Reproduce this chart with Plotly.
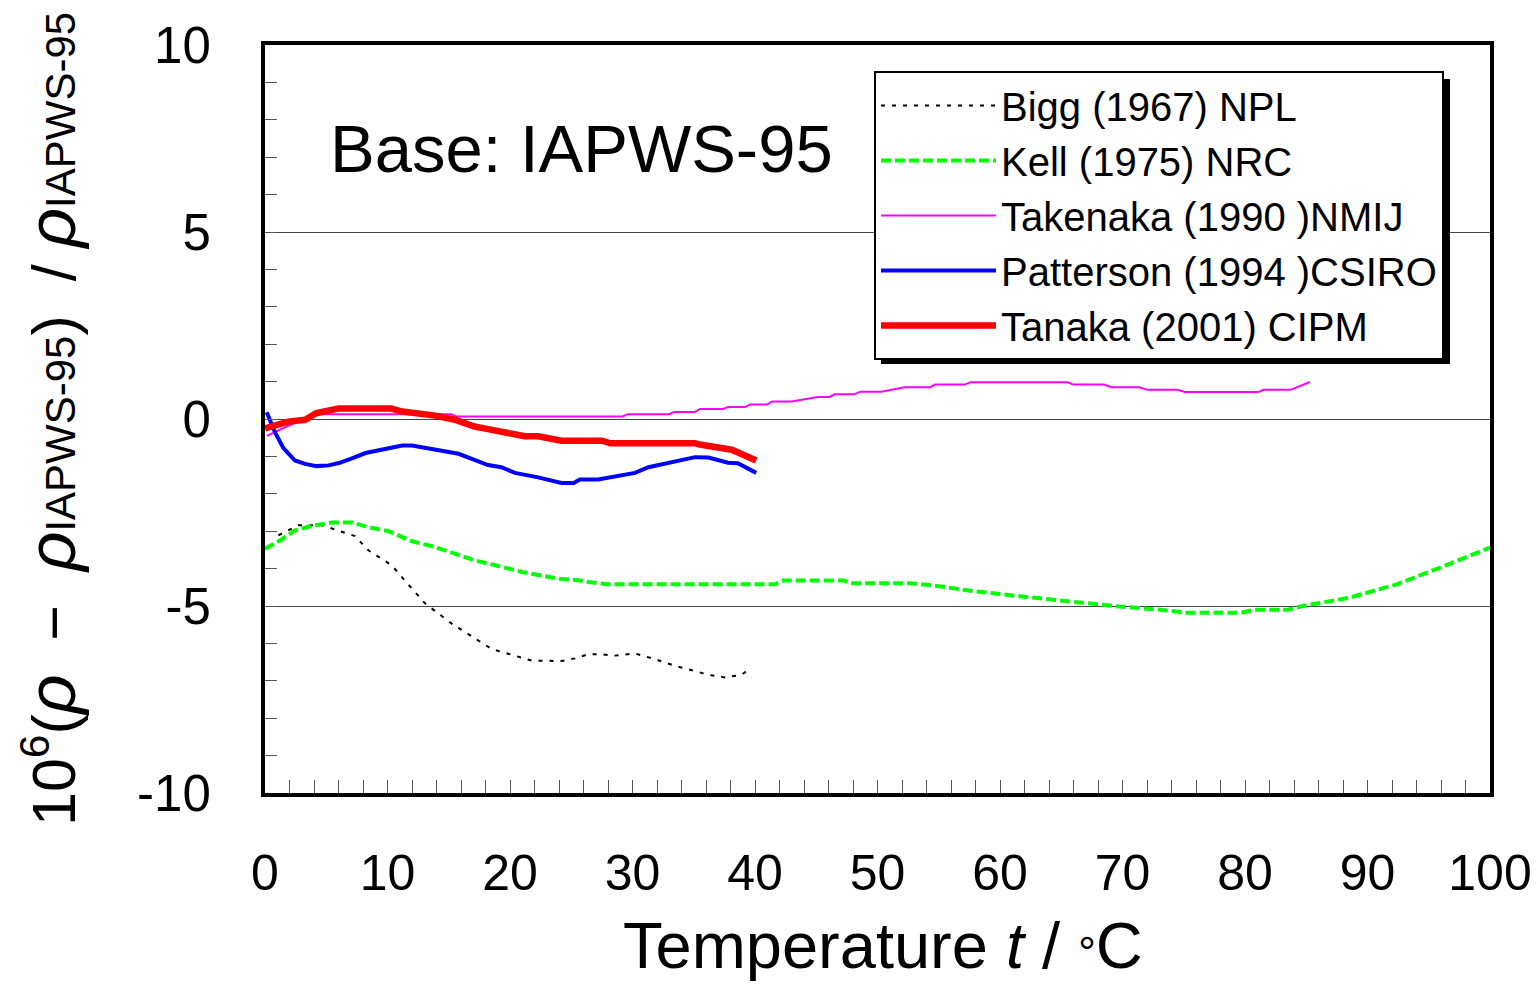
import plotly.graph_objects as go

# ---------------- data ----------------
bigg_t = [1.09, 2.72, 4.63, 6.26, 7.35, 8.43, 10.34, 11.16, 13.06, 15.24, 17.41, 18.5, 20.41, 21.77,
          24.22, 25.31, 26.39, 27.48, 28.44, 30.2, 31.84, 33.47, 34.56, 36.19, 37.55, 38.91, 39.32]
bigg_v = [-3.11, -2.84, -2.84, -3.02, -3.13, -3.51, -3.91, -4.22, -4.93, -5.47, -5.91, -6.15, -6.33, -6.46,
          -6.47, -6.40, -6.29, -6.29, -6.33, -6.27, -6.42, -6.60, -6.69, -6.84, -6.91, -6.84, -6.74]

kell_t = [0.0, 1.36, 2.45, 3.8, 5.4, 7.1, 8.4, 10.1, 12.0, 13.6, 15.5, 17.1, 18.8, 21.0, 23.1, 24.2,
          25.6, 26.4, 28.0, 41.6, 42.3, 47.3, 47.7, 52.7, 55.0, 57.3, 61.6, 65.4, 69.3, 73.1, 75.1,
          79.7, 80.8, 83.5, 84.7, 88.5, 92.4, 96.2, 100.0]
kell_v = [-3.47, -3.22, -2.98, -2.86, -2.77, -2.77, -2.89, -3.00, -3.27, -3.40, -3.60, -3.78, -3.91,
          -4.09, -4.22, -4.28, -4.31, -4.36, -4.42, -4.42, -4.32, -4.32, -4.39, -4.39, -4.47, -4.58,
          -4.74, -4.87, -5.00, -5.10, -5.18, -5.18, -5.10, -5.10, -5.00, -4.78, -4.42, -3.94, -3.44]

take_t = [0.15, 1.9, 4.1, 15.2, 15.6, 29.2, 29.6, 33.0, 33.4, 35.1, 35.5, 37.4, 37.8, 39.2, 39.6,
          41.0, 41.4, 43.0, 45.1, 46.1, 46.5, 48.1, 48.6, 50.3, 52.2, 54.3, 54.7, 57.1, 57.6, 65.5,
          66.0, 68.5, 69.1, 71.4, 72.0, 74.5, 75.1, 81.1, 81.5, 83.7, 85.3]
take_v = [-0.45, -0.18, 0.13, 0.13, 0.07, 0.07, 0.13, 0.13, 0.19, 0.19, 0.27, 0.27, 0.32, 0.32, 0.39,
          0.39, 0.47, 0.47, 0.59, 0.59, 0.66, 0.66, 0.73, 0.73, 0.85, 0.85, 0.92, 0.92, 0.98, 0.98,
          0.92, 0.92, 0.85, 0.85, 0.78, 0.78, 0.72, 0.72, 0.78, 0.78, 0.99]

patt_t = [0.14, 0.82, 1.5, 2.45, 3.27, 4.2, 5.2, 6.1, 7.1, 8.2, 10.1, 11.2, 12.0, 13.9, 15.8, 17.1,
          18.2, 19.3, 20.4, 22.3, 24.2, 25.2, 25.7, 27.2, 30.2, 31.3, 33.5, 35.1, 36.2, 37.8, 38.6,
          39.3, 40.1]
patt_v = [0.18, -0.36, -0.78, -1.11, -1.20, -1.26, -1.24, -1.17, -1.05, -0.91, -0.78, -0.71, -0.71,
          -0.82, -0.93, -1.09, -1.23, -1.29, -1.44, -1.56, -1.71, -1.71, -1.62, -1.62, -1.44, -1.29,
          -1.14, -1.02, -1.03, -1.17, -1.18, -1.29, -1.44]

tana_t = [0.0, 1.9, 3.27, 4.2, 6.0, 10.3, 11.2, 12.0, 13.9, 15.5, 17.1, 18.2, 20.4, 21.2, 22.3, 24.2,
          27.5, 28.2, 35.1, 35.6, 38.1, 39.2, 40.1]
tana_v = [-0.25, -0.07, -0.02, 0.16, 0.28, 0.28, 0.20, 0.18, 0.09, -0.02, -0.20, -0.27, -0.40, -0.46,
          -0.46, -0.58, -0.58, -0.65, -0.65, -0.69, -0.82, -0.96, -1.11]

names = ["Bigg (1967) NPL", "Kell (1975) NRC", "Takenaka (1990 )NMIJ",
         "Patterson (1994 )CSIRO", "Tanaka (2001) CIPM"]

x_tickvals = [0, 10, 20, 30, 40, 50, 60, 70, 80, 90, 100]
x_ticktext = ["0", "10", "20", "30", "40", "50", "60", "70", "80", "90", "100"]
y_tickvals = [-10, -5, 0, 5, 10]
y_ticktext = ["-10", "-5", "0", "5", "10"]

FONT = "Arial, Liberation Sans, sans-serif"

fig = go.Figure()
fig.add_trace(go.Scatter(x=bigg_t, y=bigg_v, mode="lines", name=names[0],
                         line=dict(color="black", width=2, dash="4px,7px")))
fig.add_trace(go.Scatter(x=kell_t, y=kell_v, mode="lines", name=names[1],
                         line=dict(color="#00FF00", width=4, dash="10px,4px")))
fig.add_trace(go.Scatter(x=take_t, y=take_v, mode="lines", name=names[2],
                         line=dict(color="#FF00FF", width=2)))
fig.add_trace(go.Scatter(x=patt_t, y=patt_v, mode="lines", name=names[3],
                         line=dict(color="#0000FF", width=4)))
fig.add_trace(go.Scatter(x=tana_t, y=tana_v, mode="lines", name=names[4],
                         line=dict(color="#FF0000", width=6.5)))

# page has an 8px body margin: figure coords = page coords - 8
OFF = 8
W, H = 1540 - 2 * OFF, 997 - 2 * OFF
PL, PR, PT, PB = 265, 1490, 45, 793          # plot area in page pixels
L, T = PL - OFF, PT - OFF
R = W - (PR - OFF)
B = H - (PB - OFF)
pw, ph = PR - PL, PB - PT


def px(xp):
    return (xp - PL) / pw


def py(yp):
    return (PB - yp) / ph


fig.update_layout(
    width=W, height=H,
    margin=dict(l=L, r=R, t=T, b=B, pad=0, autoexpand=False),
    paper_bgcolor="white", plot_bgcolor="white",
    font=dict(family=FONT, color="black"),
    showlegend=True,
    legend=dict(x=px(874), y=py(71), xanchor="left", yanchor="top",
                bgcolor="white", bordercolor="black", borderwidth=2,
                font=dict(size=40, family=FONT, color="black"),
                itemwidth=115),
    xaxis=dict(range=[0, 100], tickmode="array", tickvals=x_tickvals, ticktext=x_ticktext,
               showgrid=False, zeroline=False, automargin=False,
               showline=True, linecolor="black", linewidth=4, mirror=True,
               ticks="inside", ticklen=13, tickwidth=1, tickcolor="#555",
               minor=dict(tickmode="linear", tick0=0, dtick=2, ticks="inside", ticklen=13,
                          tickwidth=1, tickcolor="#555", showgrid=False),
               tickfont=dict(size=50, family=FONT, color="black"),
               ticklabelstandoff=33),
    yaxis=dict(range=[-10, 10], tickmode="array", tickvals=y_tickvals, ticktext=y_ticktext,
               showgrid=True, gridcolor="#444", gridwidth=1, zeroline=False, automargin=False,
               showline=True, linecolor="black", linewidth=4, mirror=True,
               ticks="inside", ticklen=12, tickwidth=1, tickcolor="#555",
               minor=dict(tickmode="linear", tick0=0, dtick=1, ticks="inside", ticklen=12,
                          tickwidth=1, tickcolor="#555", showgrid=False),
               tickfont=dict(size=51, family=FONT, color="black"),
               ticklabelstandoff=40),
)

# legend shadow
fig.add_shape(type="rect", xref="paper", yref="paper",
              x0=px(881), x1=px(1450), y0=py(364), y1=py(79),
              fillcolor="black", line=dict(width=0), layer="above")

sm = "<span style='font-size:42px'>IAPWS-95</span>"
rho = "<span style='font-size:69px'><i>ρ</i></span>"
fig.add_annotation(xref="paper", yref="paper", x=px(50), y=py(419), textangle=-90,
                   text="10<sup>6</sup>(" + rho + "  −  " + rho + sm + ")  / " + rho + sm,
                   showarrow=False, font=dict(size=61, family=FONT, color="black"),
                   xanchor="center", yanchor="middle")
fig.add_annotation(xref="paper", yref="paper", x=px(883), y=py(945),
                   text="Temperature <i>t</i> / <span style='font-size:44px'>°</span>C",
                   showarrow=False, font=dict(size=65, family=FONT, color="black"),
                   xanchor="center", yanchor="middle")
fig.add_annotation(xref="paper", yref="paper", x=px(581), y=py(148),
                   text="Base: IAPWS-95", showarrow=False,
                   font=dict(size=67, family=FONT, color="black"),
                   xanchor="center", yanchor="middle")

fig.write_html("out.html")
